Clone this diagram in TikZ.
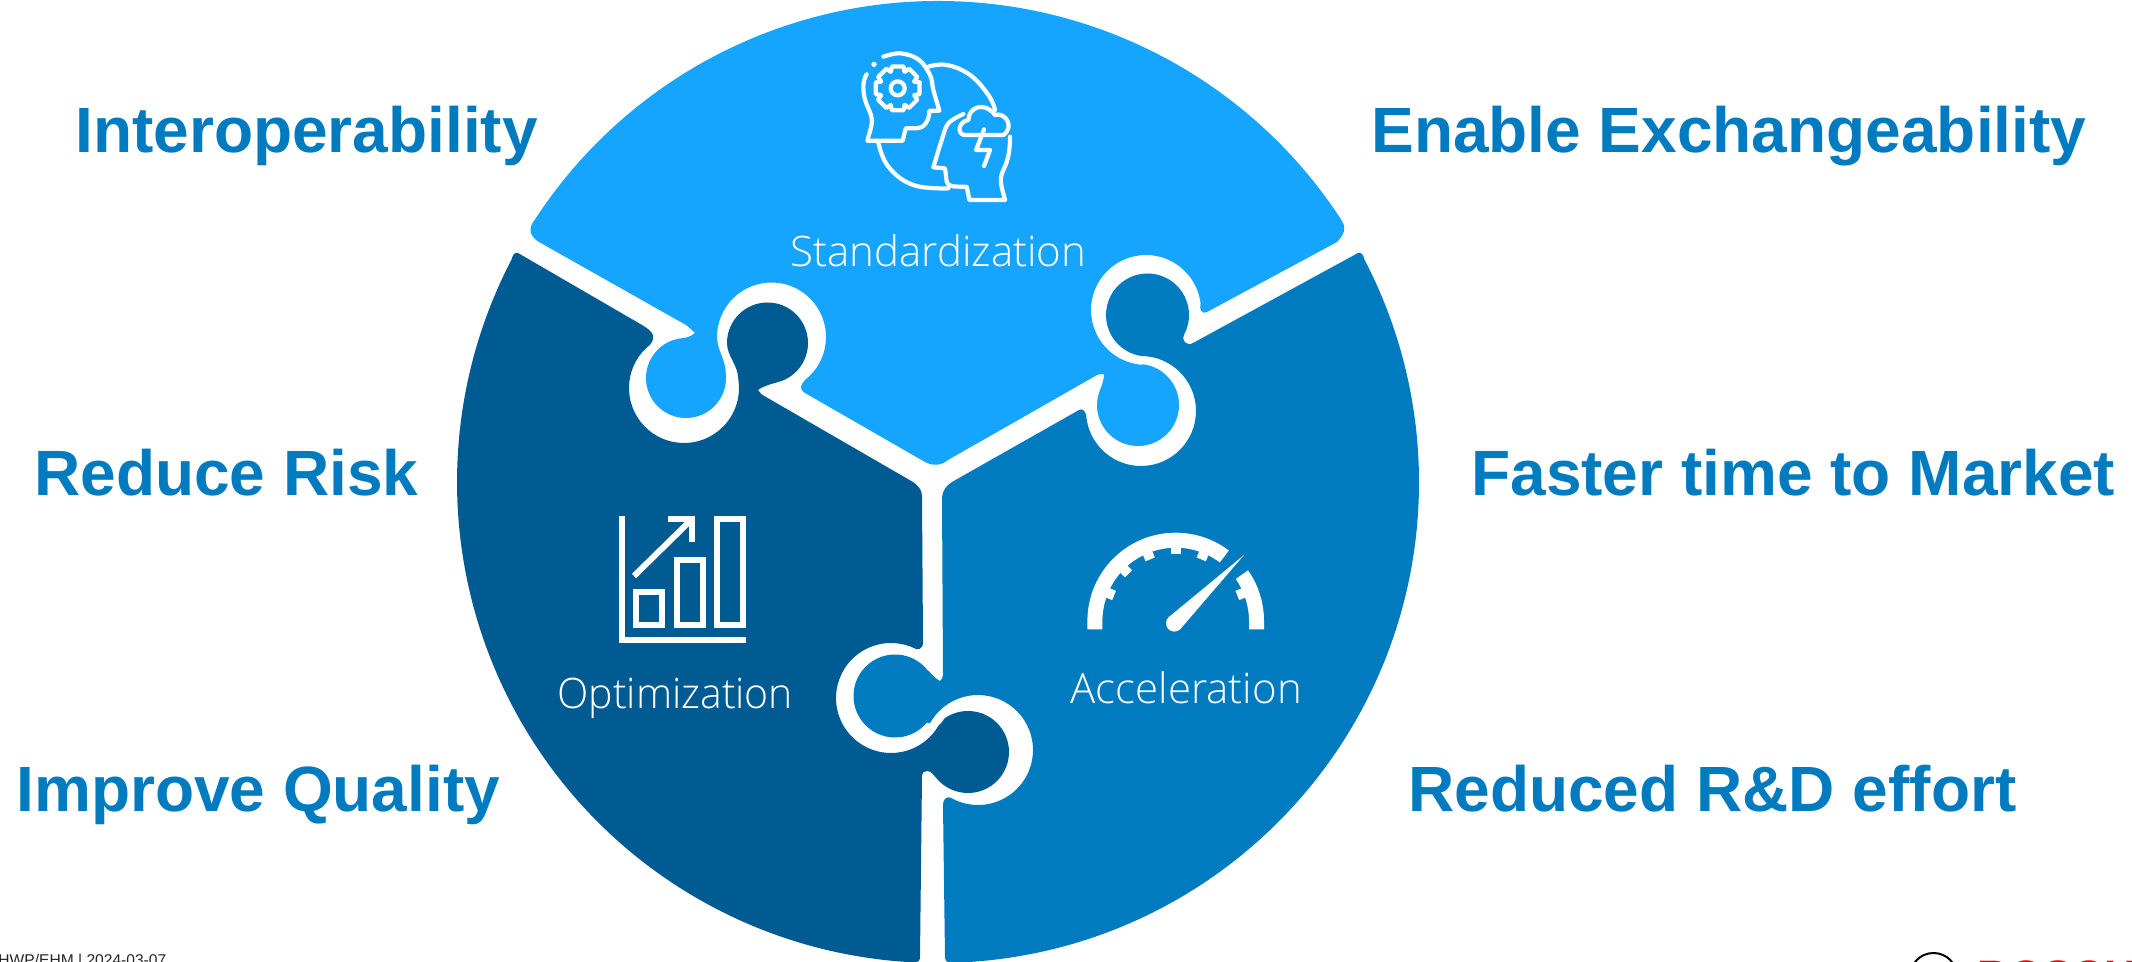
\documentclass[tikz,border=0pt]{standalone}
\usepackage{fontspec}
\usetikzlibrary{calc}
\setmainfont{Fira Sans}
\newfontfamily\headfont{Liberation Sans}[UprightFont=* Bold]
\newfontfamily\lblfont{Open Sans}[UprightFont=* Light]
\newfontfamily\footfont{Liberation Sans}
\definecolor{lightb}{HTML}{15A5FF}
\definecolor{midb}{HTML}{007BC0}
\definecolor{darkb}{HTML}{005B92}
\definecolor{boschred}{HTML}{E20015}
\newcommand\onc[4]{($(#1,#2)+(#3:#4)$)}
\tikzset{
  headline/.style={anchor=base west,inner sep=0pt,text=midb,font=\headfont\fontsize{32}{35}\selectfont},
  piecelabel/.style={anchor=base west,inner sep=0pt,text=white,font=\lblfont\fontsize{21}{25}\selectfont},
  iconline/.style={draw=white,line width=2.1pt,line cap=round,line join=round,fill=none},
  chartline/.style={draw=white,line width=3pt,line cap=butt,line join=miter,fill=none},
  tickmark/.style={draw=white,line width=5pt,line cap=butt}
}
\begin{document}
\begin{tikzpicture}[x=0.5pt,y=-0.5pt]
\useasboundingbox (0,0) rectangle (2132,962);
% light piece
\fill[lightb] (535.1,219.3) arc[start angle=213.1,end angle=326.9,radius=481]
  .. controls (1345,225) and (1347,232) .. (1337,242) -- (1207,312)
  .. controls (1202,315) and (1199,309) .. \onc{1146}{310}{353}{55}
  arc[start angle=353,end angle=95,radius=55]
  -- \onc{1138}{405}{-83}{41}
  arc[start angle=-83,end angle=180,radius=41]
  .. controls (1097,392) and (1104,385) .. (1104,374)
  .. controls (1101,374) and (1099,374) .. (1097,375)
  -- (948,460) .. controls (941,466) and (932,466) .. (925,462)
  -- (805,393) .. controls (799,389) and (800,386) .. \onc{771.5}{337}{52}{54.5}
  arc[start angle=412,end angle=180,radius=54.5]
  .. controls (717,350) and (726,360) .. \onc{686}{378}{-5}{40}
  arc[start angle=-5,end angle=263,radius=40]
  .. controls (686,338) and (690,337) .. (695,333)
  .. controls (692,330) and (690,328) .. (686,325)
  -- (539,242) .. controls (529,236) and (528,228) .. cycle;
% dark piece
\fill[darkb] \onc{938}{482}{92.7}{481}
  arc[start angle=92.7,end angle=207.5,radius=481]
  .. controls (513,254) and (515,252) .. (518,253)
  -- (642,325) .. controls (652,331) and (657,336) .. \onc{684}{388}{232}{55}
  arc[start angle=232,end angle=-10,radius=55]
  .. controls (738,365) and (727,356) .. \onc{767.5}{343}{180}{40.5}
  arc[start angle=180,end angle=430,radius=40.5]
  .. controls (772,384) and (765,385) .. (758,390)
  .. controls (760,393) and (762,395) .. (766,397)
  -- (913,482) .. controls (920,487) and (922,491) .. (922,497)
  -- (923,642) .. controls (923,650) and (917,650) .. \onc{891}{698}{296}{55}
  arc[start angle=296,end angle=30,radius=55]
  .. controls (941,724) and (942,722) .. \onc{968}{752}{235}{41}
  arc[start angle=235,end angle=500,radius=41]
  .. controls (934,776) and (932,771) .. (927,771)
  .. controls (924,771) and (922,773) .. (922,775)
  -- (920,957) .. controls (920,961) and (918,962) .. cycle;
% medium piece
\fill[midb] \onc{938}{482}{88.6}{481}
  arc[start angle=88.6,end angle=-27.5,radius=481]
  .. controls (1363,254) and (1361,252) .. (1358,253)
  -- (1193,343) .. controls (1187,347) and (1181,340) .. \onc{1147.5}{315}{29}{41.5}
  arc[start angle=29,end angle=-264,radius=41.5]
  .. controls (1145,356) and (1147,356) .. \onc{1141}{411}{-85}{55}
  arc[start angle=-85,end angle=172,radius=55]
  .. controls (1086,411) and (1083,408) .. (1079,410)
  -- (952,482) .. controls (946,486) and (943,490) .. (942,497)
  -- (943,675) .. controls (943,678) and (941,680) .. (940,681)
  .. controls (934,678) and (931,673) .. \onc{895}{696}{-40}{41.5}
  arc[start angle=-40,end angle=-320,radius=41.5]
  .. controls (929,722) and (930,724) .. \onc{978}{750}{209}{55}
  arc[start angle=209,end angle=480,radius=55]
  .. controls (946,796) and (943,800) .. (943,805)
  -- (945,957) .. controls (945,961) and (947,962) .. cycle;
% headlines
\node[headline] (t1) at (75,153) {Interoperability};
\node[headline] (t2) at (1371,153) {Enable Exchangeability};
\node[headline] (t3) at (34,495) {Reduce Risk};
\node[headline] (t4) at (1471,495) {Faster time to Market};
\node[headline] (t5) at (16,811) {Improve Quality};
\node[headline] (t6) at (1408,811) {Reduced R\&D effort};
\node[piecelabel] (p1) at (790,267) {Standardization};
\node[piecelabel] (p2) at (557,708) {\scalebox{.975}[1]{Optimization}};
\node[piecelabel] (p3) at (1070,703) {Acceleration};
% footer
\node[anchor=base west,inner sep=0pt,text=black!85,font=\footfont\fontsize{7.8}{8}\selectfont] (f1) at (-2,965) {HWP/EHM | 2024-03-07};
\draw[black,line width=1pt] (1933.5,976.5) circle[radius=23.5];
\node[anchor=north west,inner sep=0pt,text=boschred,font=\headfont\fontsize{22}{24}\selectfont] (f2) at (1977,960) {BOSCH};
% icon: heads
\begin{scope}[shift={(820,40)},x=0.1667pt,y=-0.1667pt]
  \draw[iconline] plot[smooth,tension=.6] coordinates {(190,50) (240,40) (295,58) (330,105) (340,150) (358,212)} -- (328,212) .. controls (328,245) and (310,265) .. (290,265) -- (257,265) -- (248,302) -- (142,302) .. controls (150,270) and (158,255) .. (155,235) .. controls (150,205) and (130,190) .. (130,140) .. controls (130,125) and (134,112) .. (140,103);
  \fill[white] (162,73) circle[radius=8];
  \draw[iconline] (233,145) circle[radius=21];
  \begin{scope}[shift={(233,145)}]
    \draw[iconline] (-15:68) \foreach \a in {0,45,...,315} { -- (\a-15:68) -- (\a+15:68) -- (\a+22:54) -- (\a+23:54) };
    \draw[iconline] (-15:68) -- (-22:54);
  \end{scope}
  \draw[iconline] plot[smooth,tension=.7] coordinates {(325,80) (380,75) (450,105) (505,165) (525,210)};
  \draw[iconline] plot[smooth,tension=.7] coordinates {(175,308) (205,380) (280,435) (385,445)};
  \draw[iconline] plot[smooth,tension=.6] coordinates {(430,222) (385,250) (365,300) (340,382)} -- (375,385) -- (380,425) .. controls (385,440) and (395,440) .. (440,440) -- (448,480) -- (555,480) .. controls (545,440) and (535,420) .. (550,390) .. controls (565,360) and (570,330) .. (570,290);
  \draw[iconline] (432,285) .. controls (410,280) and (415,245) .. (445,240) .. controls (445,205) and (490,180) .. (525,225) .. controls (555,215) and (585,260) .. (550,285) -- cycle;
  \draw[iconline] (492,268) -- (468,330) -- (510,330) -- (492,378);
\end{scope}
% icon: chart
\fill[white] (618.7,516) rectangle (624.7,643);
\fill[white] (618.7,637) rectangle (746,643);
\draw[chartline] (636.3,592.3) rectangle (662,625.3);
\draw[chartline] (677,559.7) rectangle (702.7,625.3);
\draw[chartline] (717.3,519) rectangle (743,625.3);
\draw[chartline] (634,576) -- (689,522);
\draw[chartline] (668.3,519) -- (691.7,519) -- (691.7,542.3);
% icon: gauge
\fill[white] (1087.4,629.3) -- (1087.4,621) arc[start angle=180,end angle=307,radius=88.3]
  -- ($(1175.7,621)+(-53:73.3)$)
  arc[start angle=307,end angle=180,radius=73.3] -- (1102.4,629.3) -- cycle;
\fill[white] (1264,629.3) -- (1264,621) arc[start angle=0,end angle=-35,radius=88.3]
  -- ($(1175.7,621)+(-35:73.3)$)
  arc[start angle=-35,end angle=0,radius=73.3] -- (1249,629.3) -- cycle;
\foreach \a in {-90,-112.5,-135,-157.5,-67.5,-22.5}
  \draw[tickmark] ($(1175.7,621)+(\a:74)$) -- ($(1175.7,621)+(\a:66.7)$);
\fill[white] (1174.3,623.3) circle[radius=8.3];
\fill[white] (1244,555) -- (1180.2,629.2) -- (1168.4,617.4) -- cycle;
\end{tikzpicture}
\end{document}
